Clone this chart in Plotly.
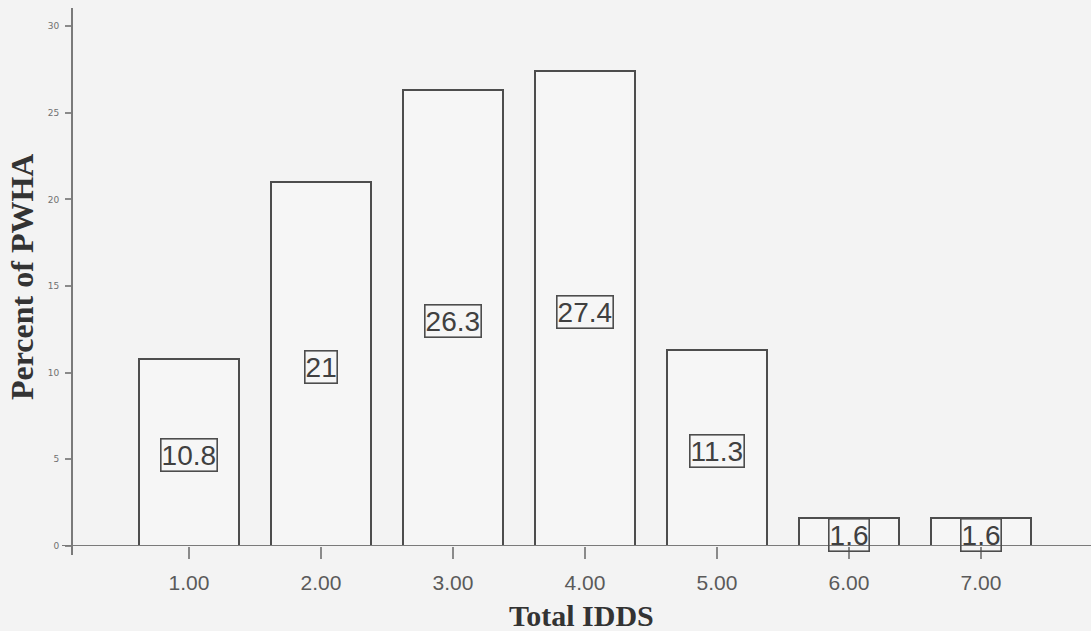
import plotly.graph_objects as go

categories = [1, 2, 3, 4, 5, 6, 7]
tick_labels = ["1.00", "2.00", "3.00", "4.00", "5.00", "6.00", "7.00"]
percents = [10.8, 21, 26.3, 27.4, 11.3, 1.6, 1.6]
label_texts = ["10.8", "21", "26.3", "27.4", "11.3", "1.6", "1.6"]
y_ticks = [0, 5, 10, 15, 20, 25, 30]

BG = "#f3f3f3"
LINE = "#4d4d4d"
AXIS = "#7a7a7a"
PLOT_W = 1091 - 72
PLOT_H = 631 - 8 - 85

fig = go.Figure()
fig.add_trace(go.Bar(
    x=categories, y=percents, width=0.76,
    marker=dict(color="#f6f6f6", line=dict(color=LINE, width=2)),
    hoverinfo="skip", showlegend=False,
))

for c, v, t in zip(categories, percents, label_texts):
    fig.add_annotation(
        x=c, y=v / 2, xref="x", yref="y", text=t, showarrow=False,
        font=dict(family="Liberation Sans, Arial", size=28, color="#404040"),
        bordercolor=LINE, borderwidth=1.6, borderpad=0, yshift=-3,
    )

# axis titles
fig.add_annotation(
    x=0.5, y=0, xref="paper", yref="paper", yanchor="middle", yshift=-69,
    text="<b>Total IDDS</b>", showarrow=False,
    font=dict(family="Liberation Serif, Times New Roman", size=30, color="#333333"),
)
fig.add_annotation(
    x=0, y=0.5, xref="paper", yref="paper", xanchor="center", xshift=-50,
    text="<b>Percent of PWHA</b>", showarrow=False, textangle=-90,
    font=dict(family="Liberation Serif, Times New Roman", size=32, color="#333333"),
)

# axis lines, extended slightly past the corner like the original
fig.add_shape(type="line", xref="paper", yref="y", x0=-10 / PLOT_W, x1=1, y0=0, y1=0,
              line=dict(color=AXIS, width=2))
fig.add_shape(type="line", xref="paper", yref="paper", x0=0, x1=0, y0=-9 / PLOT_H, y1=1,
              line=dict(color=AXIS, width=2))

fig.update_layout(
    width=1091, height=631,
    margin=dict(l=72, r=0, t=8, b=85, autoexpand=False),
    paper_bgcolor=BG, plot_bgcolor=BG,
    bargap=0,
    xaxis=dict(
        range=[0.114, 7.833], tickmode="array", tickvals=categories, ticktext=tick_labels,
        showgrid=False, zeroline=False, showline=False, automargin=False,
        ticks="outside", ticklen=12, tickwidth=1.5, tickcolor="#8a8a8a",
        tickfont=dict(family="Liberation Sans, Arial", size=21, color="#5a5a5a"),
        ticklabelstandoff=6,
    ),
    yaxis=dict(
        range=[0, 31.04], tickmode="array", tickvals=y_ticks,
        showgrid=False, zeroline=False, showline=False, automargin=False,
        ticks="outside", ticklen=6, tickwidth=1.5, tickcolor="#8a8a8a",
        tickfont=dict(family="DejaVu Sans", size=9, color="#707070"),
        ticklabelstandoff=4,
    ),
)

fig.write_html(
    "out.html",
    config={"displayModeBar": False},
    post_script="document.body.style.margin='0';document.body.style.overflow='hidden';",
)
